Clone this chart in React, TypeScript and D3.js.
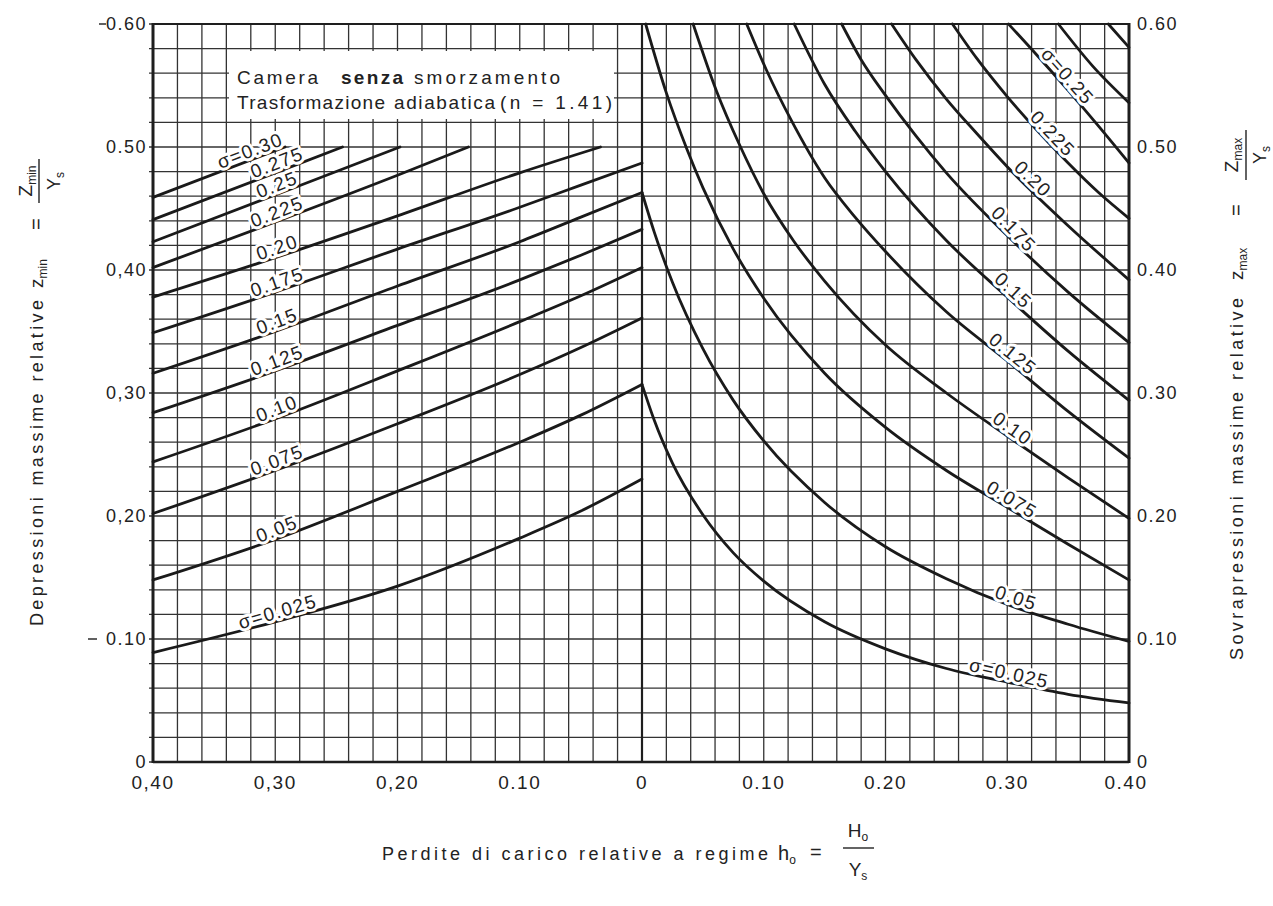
import React from "react";
import * as d3 from "d3";

// sigma values of the two families
const sigmas = [0.025, 0.05, 0.075, 0.1, 0.125, 0.15, 0.175, 0.2, 0.225, 0.25, 0.275, 0.3];

// left panel: z_min against h0 (h0 runs from 0.40 at the left edge to 0 at the centre)
const zminCurves: [number, number][][] = [
  [[0.40, 0.089], [0.30, 0.114], [0.20, 0.143], [0.10, 0.182], [0.05, 0.204], [0, 0.230]],
  [[0.40, 0.148], [0.30, 0.181], [0.20, 0.220], [0.10, 0.260], [0.05, 0.282], [0, 0.307]],
  [[0.40, 0.202], [0.30, 0.237], [0.20, 0.275], [0.10, 0.315], [0.05, 0.337], [0, 0.361]],
  [[0.40, 0.244], [0.30, 0.279], [0.20, 0.318], [0.10, 0.358], [0.05, 0.379], [0, 0.402]],
  [[0.40, 0.284], [0.30, 0.318], [0.20, 0.355], [0.10, 0.392], [0.05, 0.412], [0, 0.433]],
  [[0.40, 0.316], [0.30, 0.350], [0.20, 0.387], [0.10, 0.423], [0.05, 0.443], [0, 0.463]],
  [[0.40, 0.349], [0.30, 0.382], [0.20, 0.417], [0.10, 0.451], [0.05, 0.469], [0, 0.487]],
  [[0.40, 0.378], [0.30, 0.410], [0.20, 0.444], [0.10, 0.479], [0.034, 0.500]],
  [[0.40, 0.402], [0.30, 0.439], [0.20, 0.477], [0.142, 0.500]],
  [[0.40, 0.423], [0.30, 0.461], [0.198, 0.500]],
  [[0.40, 0.441], [0.30, 0.479], [0.245, 0.500]],
  [[0.40, 0.459], [0.292, 0.500]],
];
const zminLabels = ["σ=0.025", "0.05", "0.075", "0.10", "0.125", "0.15", "0.175", "0.20", "0.225", "0.25", "0.275", "σ=0.30"];

// right panel: z_max against h0 (0 at the centre to 0.40 at the right edge)
const zmaxCurves: [number, number][][] = [
  [[0, 0.307], [0.01, 0.278], [0.025, 0.243], [0.05, 0.201], [0.075, 0.170], [0.10, 0.147], [0.15, 0.114], [0.20, 0.092], [0.25, 0.076], [0.30, 0.065], [0.35, 0.055], [0.40, 0.048]],
  [[0, 0.463], [0.01, 0.431], [0.025, 0.390], [0.05, 0.336], [0.075, 0.294], [0.10, 0.261], [0.15, 0.211], [0.20, 0.175], [0.25, 0.149], [0.30, 0.128], [0.35, 0.112], [0.40, 0.098]],
  [[0.003, 0.600], [0.02, 0.544], [0.037, 0.498], [0.05, 0.467], [0.075, 0.417], [0.10, 0.377], [0.15, 0.316], [0.20, 0.272], [0.25, 0.237], [0.30, 0.207], [0.35, 0.177], [0.40, 0.148]],
  [[0.042, 0.600], [0.061, 0.546], [0.08, 0.502], [0.10, 0.462], [0.125, 0.423], [0.15, 0.391], [0.20, 0.339], [0.25, 0.300], [0.30, 0.265], [0.35, 0.231], [0.40, 0.198]],
  [[0.086, 0.600], [0.102, 0.563], [0.123, 0.521], [0.15, 0.475], [0.175, 0.443], [0.20, 0.415], [0.25, 0.366], [0.30, 0.326], [0.35, 0.285], [0.40, 0.247]],
  [[0.125, 0.600], [0.15, 0.551], [0.175, 0.513], [0.20, 0.480], [0.25, 0.424], [0.30, 0.378], [0.35, 0.334], [0.40, 0.294]],
  [[0.164, 0.600], [0.18, 0.571], [0.20, 0.542], [0.225, 0.509], [0.25, 0.479], [0.30, 0.428], [0.35, 0.382], [0.40, 0.341]],
  [[0.205, 0.600], [0.225, 0.571], [0.25, 0.539], [0.275, 0.511], [0.30, 0.484], [0.35, 0.436], [0.40, 0.392]],
  [[0.255, 0.600], [0.275, 0.572], [0.30, 0.541], [0.325, 0.513], [0.35, 0.487], [0.375, 0.463], [0.40, 0.442]],
  [[0.301, 0.600], [0.325, 0.574], [0.35, 0.546], [0.375, 0.517], [0.40, 0.487]],
  [[0.342, 0.600], [0.37, 0.566], [0.40, 0.536]],
  [[0.383, 0.600], [0.40, 0.581]],
];
const zmaxLabels = ["σ=0.025", "0.05", "0.075", "0.10", "0.125", "0.15", "0.175", "0.20", "0.225", "σ=0.25", "", ""];

// axis ticks
const yTicks = [0, 0.1, 0.2, 0.3, 0.4, 0.5, 0.6];
const yTickLabelsLeft = ["0", "0.10", "0,20", "0,30", "0,40", "0.50", "0.60"];
const yTickLabelsRight = ["0", "0.10", "0.20", "0.30", "0.40", "0.50", "0.60"];
const xTicksLeft = [0.4, 0.3, 0.2, 0.1];
const xTickLabelsLeft = ["0,40", "0,30", "0,20", "0.10"];
const xTicksRight = [0, 0.1, 0.2, 0.3, 0.4];
const xTickLabelsRight = ["0", "0.10", "0.20", "0.30", "0.40"];

// where along h0 the curve labels sit
const zminLabelAt = [0.296, 0.296, 0.296, 0.296, 0.296, 0.296, 0.296, 0.296, 0.296, 0.296, 0.296, 0.318];
const zmaxLabelAt = [0.30, 0.305, 0.30, 0.30, 0.30, 0.30, 0.30, 0.316, 0.332, 0.344, 0, 0];

const FONT = "'Liberation Sans', Arial, sans-serif";
const INK = "#222";

const xL = d3.scaleLinear().domain([0.4, 0]).range([153, 642]);
const xR = d3.scaleLinear().domain([0, 0.4]).range([642, 1129]);
const y = d3.scaleLinear().domain([0, 0.6]).range([762, 24]);

function labelPos(pts: [number, number][], h: number, xs: d3.ScaleLinear<number, number>, off: number) {
  const s = [...pts].sort((a, b) => xs(a[0]) - xs(b[0]));
  const px = xs(h);
  let i = 0;
  while (i < s.length - 2 && xs(s[i + 1][0]) < px) i++;
  const x0 = xs(s[i][0]), y0 = y(s[i][1]);
  const x1 = xs(s[i + 1][0]), y1 = y(s[i + 1][1]);
  const t = (px - x0) / (x1 - x0);
  const py = y0 + t * (y1 - y0);
  const ang = Math.atan2(y1 - y0, x1 - x0);
  return { x: px + off * Math.sin(ang), y: py - off * Math.cos(ang), deg: (ang * 180) / Math.PI };
}

export default function App() {
  const gridY = d3.range(0, 31).map((i) => i * 0.02);
  const gridX = d3.range(0, 21).map((i) => i * 0.02);

  const lineL = d3
    .line<[number, number]>()
    .x((d) => xL(d[0]))
    .y((d) => y(d[1]))
    .curve(d3.curveMonotoneX);
  const lineR = d3
    .line<[number, number]>()
    .x((d) => xR(d[0]))
    .y((d) => y(d[1]))
    .curve(d3.curveMonotoneX);

  const sub = (t: string) => (
    <tspan fontSize={12} dy={4}>
      {t}
    </tspan>
  );

  return (
    <div style={{ position: "absolute", left: 0, top: 0 }}>
      <svg width={1273} height={906} style={{ display: "block", background: "#fff" }} fontFamily={FONT}>
        <rect x={0} y={0} width={1273} height={906} fill="#fff" />

        {/* grid */}
        <g stroke="#333" strokeWidth={1.3}>
          {gridY.map((v, i) => (
            <line key={"gy" + i} x1={149} x2={1129} y1={y(v)} y2={y(v)} />
          ))}
          {gridX.map((v, i) => (
            <line key={"gl" + i} x1={xL(v)} x2={xL(v)} y1={y(0)} y2={y(0.6)} />
          ))}
          {gridX.map((v, i) => (
            <line key={"gr" + i} x1={xR(v)} x2={xR(v)} y1={y(0)} y2={y(0.6)} />
          ))}
        </g>

        {/* frame and centre line */}
        <g stroke="#1e1e1e" fill="none">
          <line x1={xL(0.4)} x2={xL(0.4)} y1={y(0) + 1} y2={y(0.6) - 1} strokeWidth={3} />
          <line x1={xR(0.4)} x2={xR(0.4)} y1={y(0) + 1} y2={y(0.6) - 1} strokeWidth={3} />
          <line x1={xL(0.4)} x2={xR(0.4)} y1={y(0)} y2={y(0)} strokeWidth={2.5} />
          <line x1={xL(0.4)} x2={xR(0.4)} y1={y(0.6)} y2={y(0.6)} strokeWidth={2} />
          <line x1={xL(0)} x2={xL(0)} y1={y(0)} y2={y(0.6)} strokeWidth={2.2} />
          <line x1={99} x2={106} y1={y(0.6)} y2={y(0.6)} strokeWidth={1.4} />
          <line x1={88} x2={97} y1={y(0.1)} y2={y(0.1)} strokeWidth={1.4} />
        </g>

        {/* note box */}
        <rect x={229} y={51} width={385} height={68} fill="#fff" />
        <g fill={INK} fontSize={19}>
          <text x={237} y={84} textLength={81} lengthAdjust="spacing">Camera</text>
          <text x={341} y={84} textLength={62} lengthAdjust="spacing" fontWeight="bold">senza</text>
          <text x={414} y={84} textLength={146} lengthAdjust="spacing">smorzamento</text>
          <text x={237} y={109} textLength={148} lengthAdjust="spacing">Trasformazione</text>
          <text x={394} y={109} textLength={101} lengthAdjust="spacing">adiabatica</text>
          <text x={500} y={109} textLength={112} lengthAdjust="spacing">(n = 1.41)</text>
        </g>

        {/* curves */}
        <g fill="none" stroke="#1a1a1a" strokeWidth={2.8} strokeLinecap="round">
          {zminCurves.map((c, i) => (
            <path key={"l" + sigmas[i]} d={lineL([...c].sort((a, b) => b[0] - a[0])) || ""} />
          ))}
          {zmaxCurves.map((c, i) => (
            <path key={"r" + sigmas[i]} d={lineR([...c].sort((a, b) => a[0] - b[0])) || ""} />
          ))}
        </g>

        {/* curve labels */}
        <g fill={INK} fontSize={19} letterSpacing={1.5} stroke="#fff" strokeWidth={6} paintOrder="stroke" strokeLinejoin="round">
          {zminCurves.map((c, i) => {
            const p = labelPos(c, zminLabelAt[i], xL, 9);
            return (
              <text key={"ll" + i} transform={`translate(${p.x},${p.y}) rotate(${p.deg})`} textAnchor="middle" dominantBaseline="central">
                {zminLabels[i]}
              </text>
            );
          })}
          {zmaxCurves.map((c, i) => {
            if (!zmaxLabels[i]) return null;
            const p = labelPos(c, zmaxLabelAt[i], xR, 9);
            return (
              <text key={"rl" + i} transform={`translate(${p.x},${p.y}) rotate(${p.deg})`} textAnchor="middle" dominantBaseline="central">
                {zmaxLabels[i]}
              </text>
            );
          })}
        </g>

        {/* tick labels */}
        <g fill={INK} fontSize={18} letterSpacing={1.5}>
          {yTicks.map((v, i) => (
            <text key={"yl" + i} x={147} y={y(v)} textAnchor="end" dominantBaseline="central">
              {yTickLabelsLeft[i]}
            </text>
          ))}
          {yTicks.map((v, i) => (
            <text key={"yr" + i} x={1137} y={y(v)} dominantBaseline="central">
              {yTickLabelsRight[i]}
            </text>
          ))}
        </g>
        <g fill={INK} fontSize={19} letterSpacing={1.5} textAnchor="middle">
          {xTicksLeft.map((v, i) => (
            <text key={"xl" + i} x={xL(v)} y={782} dominantBaseline="central">
              {xTickLabelsLeft[i]}
            </text>
          ))}
          {xTicksRight.map((v, i) => (
            <text key={"xr" + i} x={xR(v) + (i === 4 ? -3 : 0)} y={782} dominantBaseline="central">
              {xTickLabelsRight[i]}
            </text>
          ))}
        </g>

        {/* left axis title */}
        <g fill={INK} fontSize={18}>
          <text transform="translate(43,626) rotate(-90)" textLength={326} lengthAdjust="spacing">
            Depressioni massime relative
          </text>
          <text transform="translate(43,288) rotate(-90)" fontSize={19}>
            z{sub("min")}
          </text>
          <text transform="translate(43,230) rotate(-90)" fontSize={20}>=</text>
          <text transform="translate(32,181) rotate(-90)" textAnchor="middle" fontSize={19}>
            Z{sub("min")}
          </text>
          <line x1={39} x2={39} y1={159} y2={203} stroke={INK} strokeWidth={1.4} />
          <text transform="translate(60,181) rotate(-90)" textAnchor="middle" fontSize={18}>
            Y{sub("s")}
          </text>
        </g>

        {/* right axis title */}
        <g fill={INK} fontSize={18}>
          <text transform="translate(1243,660) rotate(-90)" textLength={362} lengthAdjust="spacing">
            Sovrapressioni massime relative
          </text>
          <text transform="translate(1243,280) rotate(-90)" fontSize={19}>
            z{sub("max")}
          </text>
          <text transform="translate(1243,216) rotate(-90)" fontSize={20}>=</text>
          <text transform="translate(1238,155) rotate(-90)" textAnchor="middle" fontSize={19}>
            Z{sub("max")}
          </text>
          <line x1={1246} x2={1246} y1={130} y2={180} stroke={INK} strokeWidth={1.4} />
          <text transform="translate(1266,155) rotate(-90)" textAnchor="middle" fontSize={18}>
            Y{sub("s")}
          </text>
        </g>

        {/* bottom axis title */}
        <g fill={INK} fontSize={18}>
          <text x={382} y={860} textLength={386} lengthAdjust="spacing">
            Perdite di carico relative a regime
          </text>
          <text x={778} y={860} fontSize={20}>
            h{sub("o")}
          </text>
          <text x={810} y={859} fontSize={20}>=</text>
          <text x={858} y={837} textAnchor="middle" fontSize={19}>
            H{sub("o")}
          </text>
          <line x1={843} x2={874} y1={848} y2={848} stroke={INK} strokeWidth={1.4} />
          <text x={858} y={876} textAnchor="middle" fontSize={19}>
            Y{sub("s")}
          </text>
        </g>
      </svg>
    </div>
  );
}
